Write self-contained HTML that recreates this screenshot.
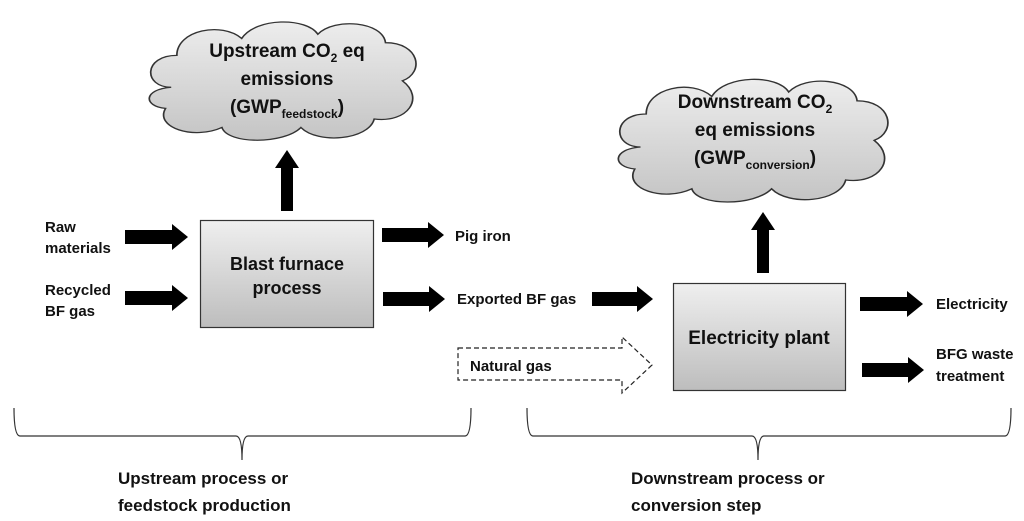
<!DOCTYPE html>
<html><head><meta charset="utf-8"><style>
html,body{margin:0;padding:0;background:#fff;}
svg{display:block;}
text{font-family:"Liberation Sans",sans-serif;font-weight:bold;fill:#111;}
</style></head><body>
<svg width="1024" height="521" viewBox="0 0 1024 521" xmlns="http://www.w3.org/2000/svg">
<defs>
<linearGradient id="cg" x1="0" y1="0" x2="0" y2="1"><stop offset="0" stop-color="#ededed"/><stop offset="1" stop-color="#c4c4c4"/></linearGradient>
<linearGradient id="bg" x1="0" y1="0" x2="0" y2="1"><stop offset="0" stop-color="#efefef"/><stop offset="1" stop-color="#bdbdbd"/></linearGradient>
<path id="cloud" d="M 10 35 C 0 35, 0 20, 12 20 C 12 8, 28 4, 35 12 C 40 2, 58 2, 62 10 C 68 2, 85 4, 86 14 C 98 14, 100 28, 92 32 C 100 40, 94 52, 82 50 C 80 60, 62 62, 56 54 C 50 62, 30 62, 28 54 C 18 60, 4 54, 8 45 C 0 44, 0 36, 10 35 Z"/>
</defs>
<g transform="translate(143,13) scale(2.82,2.12)"><use href="#cloud" fill="url(#cg)" stroke="#333" stroke-width="0.6"/></g>
<g transform="translate(612,70) scale(2.85,2.2)"><use href="#cloud" fill="url(#cg)" stroke="#333" stroke-width="0.6"/></g>
<text x="287" y="57" font-size="19" text-anchor="middle">Upstream CO<tspan font-size="12" dy="5">2</tspan><tspan dy="-5"> eq</tspan></text>
<text x="287" y="85" font-size="19" text-anchor="middle">emissions</text>
<text x="287" y="113" font-size="19" text-anchor="middle">(GWP<tspan font-size="12" dy="5">feedstock</tspan><tspan dy="-5">)</tspan></text>
<text x="755" y="108" font-size="19" text-anchor="middle">Downstream CO<tspan font-size="12" dy="5">2</tspan></text>
<text x="755" y="136" font-size="19" text-anchor="middle">eq emissions</text>
<text x="755" y="164" font-size="19" text-anchor="middle">(GWP<tspan font-size="12" dy="5">conversion</tspan><tspan dy="-5">)</tspan></text>
<rect x="200.5" y="220.5" width="173" height="107" fill="url(#bg)" stroke="#333" stroke-width="1.2"/>
<text x="287" y="270" font-size="18" text-anchor="middle">Blast furnace</text>
<text x="287" y="294" font-size="18" text-anchor="middle">process</text>
<rect x="673.5" y="283.5" width="172" height="107" fill="url(#bg)" stroke="#333" stroke-width="1.2"/>
<text x="759" y="344" font-size="19" text-anchor="middle">Electricity plant</text>
<polygon points="281,211 293,211 293,168 299,168 287,150 275,168 281,168" fill="#000"/>
<polygon points="757,273 769,273 769,230 775,230 763,212 751,230 757,230" fill="#000"/>
<g fill="#000">
<polygon points="125,230 172,230 172,224 188,237 172,250 172,244 125,244"/>
<polygon points="125,291 172,291 172,285 188,298 172,311 172,305 125,305"/>
<polygon points="382,228 428,228 428,222 444,235 428,248 428,242 382,242"/>
<polygon points="383,292 429,292 429,286 445,299 429,312 429,306 383,306"/>
<polygon points="592,292 637,292 637,286 653,299 637,312 637,306 592,306"/>
<polygon points="860,297 907,297 907,291 923,304 907,317 907,311 860,311"/>
<polygon points="862,363 908,363 908,357 924,370 908,383 908,377 862,377"/>
</g>
<polygon points="458,348 622,348 622,337 652,365 622,393 622,380 458,380" fill="none" stroke="#222" stroke-width="1.2" stroke-dasharray="5,3"/>
<text x="470" y="371" font-size="15">Natural gas</text>
<text x="45" y="232" font-size="15">Raw</text>
<text x="45" y="253" font-size="15">materials</text>
<text x="45" y="295" font-size="15">Recycled</text>
<text x="45" y="316" font-size="15">BF gas</text>
<text x="455" y="241" font-size="15">Pig iron</text>
<text x="457" y="304" font-size="15">Exported BF gas</text>
<text x="936" y="309" font-size="15">Electricity</text>
<text x="936" y="359" font-size="15">BFG waste</text>
<text x="936" y="381" font-size="15">treatment</text>
<path d="M14,408 Q14,436 20,436 L236,436 Q242,436 242,460 Q242,436 248,436 L465,436 Q471,436 471,408" fill="none" stroke="#333" stroke-width="1.2"/>
<path d="M527,408 Q527,436 533,436 L752,436 Q758,436 758,460 Q758,436 764,436 L1005,436 Q1011,436 1011,408" fill="none" stroke="#333" stroke-width="1.2"/>
<text x="118" y="484" font-size="17">Upstream process or</text>
<text x="118" y="511" font-size="17">feedstock production</text>
<text x="631" y="484" font-size="17">Downstream process or</text>
<text x="631" y="511" font-size="17">conversion step</text>
</svg>
</body></html>
